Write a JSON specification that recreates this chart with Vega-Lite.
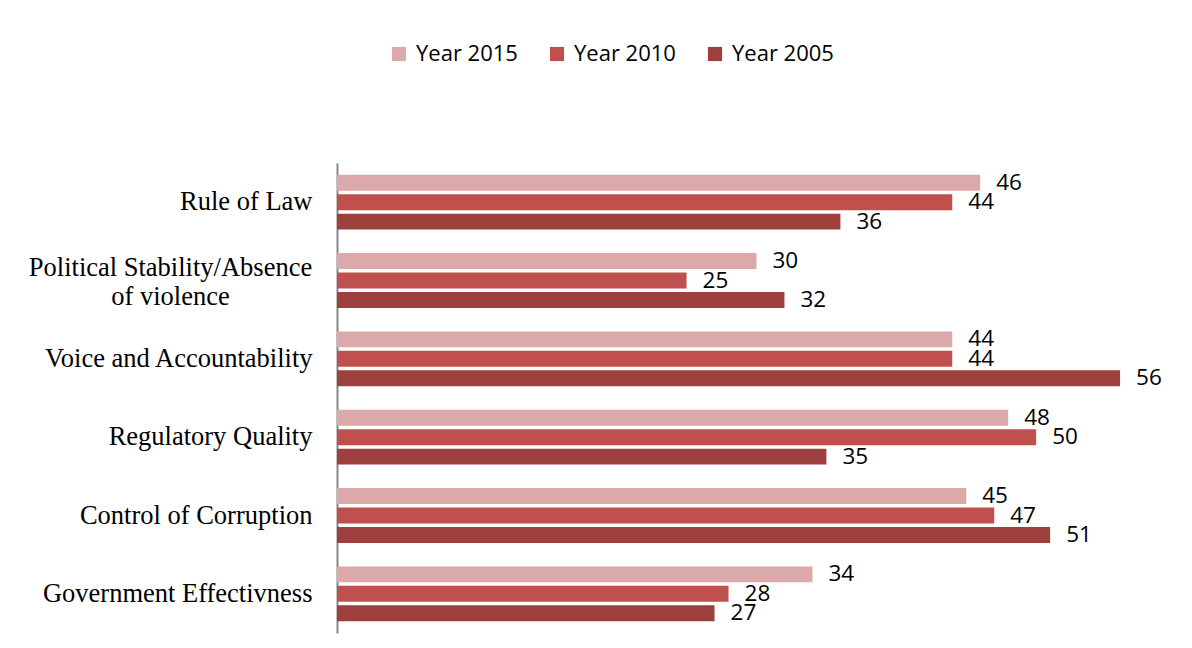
{
  "$schema": "https://vega.github.io/schema/vega-lite/v6.json",
  "width": 839,
  "height": 470,
  "autosize": {"type": "none"},
  "padding": {"left": 337, "top": 163, "right": 16, "bottom": 15},
  "background": "white",
  "config": {"view": {"stroke": null}},
  "data": {
    "values": [
      {"indicator": "Rule of Law", "year": "Year 2015", "value": 46},
      {"indicator": "Rule of Law", "year": "Year 2010", "value": 44},
      {"indicator": "Rule of Law", "year": "Year 2005", "value": 36},
      {"indicator": "Political Stability/Absence of violence", "year": "Year 2015", "value": 30},
      {"indicator": "Political Stability/Absence of violence", "year": "Year 2010", "value": 25},
      {"indicator": "Political Stability/Absence of violence", "year": "Year 2005", "value": 32},
      {"indicator": "Voice and Accountability", "year": "Year 2015", "value": 44},
      {"indicator": "Voice and Accountability", "year": "Year 2010", "value": 44},
      {"indicator": "Voice and Accountability", "year": "Year 2005", "value": 56},
      {"indicator": "Regulatory Quality", "year": "Year 2015", "value": 48},
      {"indicator": "Regulatory Quality", "year": "Year 2010", "value": 50},
      {"indicator": "Regulatory Quality", "year": "Year 2005", "value": 35},
      {"indicator": "Control of Corruption", "year": "Year 2015", "value": 45},
      {"indicator": "Control of Corruption", "year": "Year 2010", "value": 47},
      {"indicator": "Control of Corruption", "year": "Year 2005", "value": 51},
      {"indicator": "Government Effectivness", "year": "Year 2015", "value": 34},
      {"indicator": "Government Effectivness", "year": "Year 2010", "value": 28},
      {"indicator": "Government Effectivness", "year": "Year 2005", "value": 27}
    ]
  },
  "encoding": {
    "y": {
      "field": "indicator",
      "type": "nominal",
      "sort": ["Rule of Law", "Political Stability/Absence of violence", "Voice and Accountability", "Regulatory Quality", "Control of Corruption", "Government Effectivness"],
      "scale": {"paddingInner": 0.3, "paddingOuter": 0.15},
      "axis": {
        "title": null,
        "ticks": false,
        "domainColor": "#868686",
        "domainWidth": 2,
        "labelFont": "Liberation Serif",
        "labelFontSize": 26.5,
        "labelColor": "#000000",
        "labelPadding": {"condition": {"test": "datum.value == 'Political Stability/Absence of violence'", "value": 167}, "value": 25},
        "labelAlign": {"condition": {"test": "datum.value == 'Political Stability/Absence of violence'", "value": "center"}, "value": "right"},
        "labelOffset": {"condition": {"test": "datum.value == 'Political Stability/Absence of violence'", "value": -13}, "value": 0},
        "labelLimit": 400,
        "labelLineHeight": 29,
        "labelExpr": "datum.value == 'Political Stability/Absence of violence' ? ['Political Stability/Absence', 'of violence'] : datum.value"
      }
    },
    "yOffset": {
      "field": "year",
      "type": "nominal",
      "sort": ["Year 2015", "Year 2010", "Year 2005"],
      "scale": {"paddingInner": 0.18, "paddingOuter": 0}
    },
    "x": {
      "field": "value",
      "type": "quantitative",
      "scale": {"domain": [0, 60], "nice": false},
      "axis": null
    }
  },
  "layer": [
    {
      "mark": {"type": "bar"},
      "encoding": {
        "color": {
          "field": "year",
          "type": "nominal",
          "sort": ["Year 2015", "Year 2010", "Year 2005"],
          "scale": {"domain": ["Year 2015", "Year 2010", "Year 2005"], "range": ["#DBA9A9", "#C0504D", "#9D403E"]},
          "legend": {
            "title": null,
            "orient": "none",
            "direction": "horizontal",
            "legendX": 51,
            "legendY": -120,
            "symbolType": "square",
            "symbolSize": 200,
            "symbolStrokeWidth": 0,
            "labelFont": "Open Sans",
            "labelFontSize": 22,
            "labelColor": "#000000",
            "labelOffset": 6,
            "columnPadding": 28
          }
        }
      }
    },
    {
      "mark": {"type": "text", "align": "left", "baseline": "middle", "dx": 16, "font": "Open Sans", "fontSize": 22.5, "color": "#000000"},
      "encoding": {"text": {"field": "value", "type": "quantitative"}}
    }
  ]
}
